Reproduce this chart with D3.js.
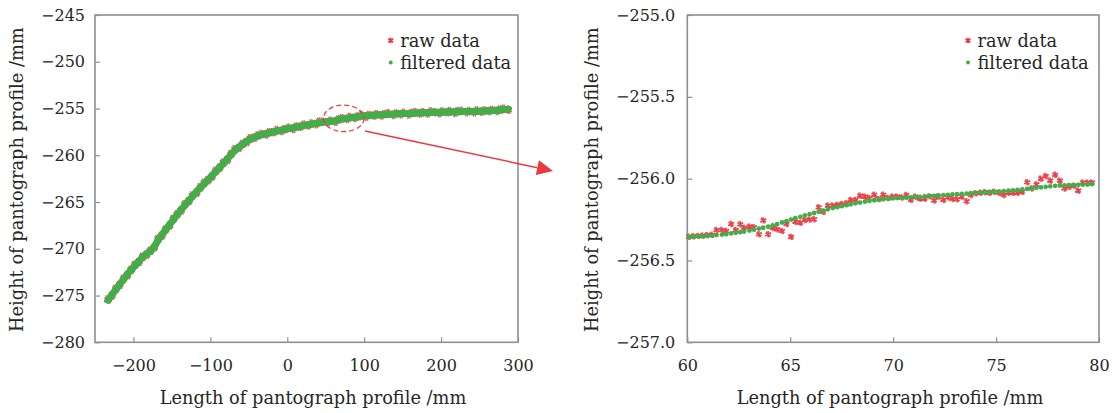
<!DOCTYPE html>
<html>
<head>
<meta charset="utf-8">
<script src="https://cdn.jsdelivr.net/npm/d3@7.9.0/dist/d3.min.js"></script>
<style>
  html, body { margin: 0; padding: 0; background: #fff; }
  svg { display: block; font-family: "DejaVu Serif", serif; }
</style>
</head>
<body>
<svg id="chart" width="1115" height="413"></svg>
<script>
// left panel: whole profile
const leftX = [-233, -228, -223, -218, -213, -208, -203, -198, -193, -188,
  -183, -178, -173, -168, -163, -158, -153, -148, -143, -138,
  -133, -128, -123, -118, -113, -108, -103, -98, -93, -88,
  -83, -78, -73, -68, -63, -58, -53, -48, -43, -38,
  -33, -28, -23, -18, -13, -8, -3, 2, 7, 12,
  17, 22, 27, 32, 37, 42, 47, 52, 57, 62,
  67, 72, 77, 82, 87, 92, 97, 102, 107, 112,
  117, 122, 127, 132, 137, 142, 147, 152, 157, 162,
  167, 172, 177, 182, 187, 192, 197, 202, 207, 212,
  217, 222, 227, 232, 237, 242, 247, 252, 257, 262,
  267, 272, 277, 282, 287];
const leftRaw = [-275.42, -275.02, -274.27, -273.87, -273.20, -272.85, -272.23, -271.70, -271.42, -270.85,
  -270.65, -270.19, -269.85, -268.94, -268.59, -267.92, -267.52, -266.80, -266.30, -265.91,
  -265.23, -264.90, -264.28, -264.02, -263.42, -262.94, -262.67, -262.28, -261.66, -261.33,
  -260.79, -260.52, -259.86, -259.35, -259.21, -258.79, -258.60, -258.19, -258.13, -257.88,
  -257.72, -257.78, -257.53, -257.53, -257.30, -257.40, -257.21, -257.06, -257.19, -256.93,
  -256.94, -256.72, -256.81, -256.60, -256.68, -256.40, -256.41, -256.47, -256.30, -256.42,
  -256.15, -256.03, -256.11, -255.90, -256.01, -255.85, -255.69, -255.87, -255.69, -255.75,
  -255.60, -255.74, -255.59, -255.50, -255.69, -255.53, -255.61, -255.46, -255.63, -255.48,
  -255.39, -255.53, -255.39, -255.53, -255.32, -255.39, -255.50, -255.32, -255.41, -255.27,
  -255.47, -255.29, -255.25, -255.39, -255.28, -255.40, -255.20, -255.34, -255.20, -255.27,
  -255.15, -255.26, -255.11, -255.02, -255.14];
const leftFiltered = [-275.48, -274.93, -274.38, -273.83, -273.28, -272.73, -272.26, -271.80, -271.35, -270.90,
  -270.54, -270.28, -269.82, -269.06, -268.51, -267.96, -267.42, -266.87, -266.32, -265.82,
  -265.33, -264.85, -264.36, -263.90, -263.48, -263.05, -262.63, -262.20, -261.75, -261.31,
  -260.86, -260.41, -259.91, -259.47, -259.15, -258.82, -258.51, -258.29, -258.06, -257.92,
  -257.80, -257.68, -257.59, -257.50, -257.41, -257.32, -257.23, -257.15, -257.07, -256.98,
  -256.90, -256.82, -256.74, -256.66, -256.59, -256.52, -256.44, -256.41, -256.38, -256.31,
  -256.19, -256.10, -256.06, -256.00, -255.93, -255.87, -255.80, -255.77, -255.75, -255.72,
  -255.69, -255.67, -255.64, -255.62, -255.60, -255.57, -255.55, -255.54, -255.52, -255.51,
  -255.49, -255.48, -255.46, -255.45, -255.43, -255.41, -255.40, -255.38, -255.37, -255.36,
  -255.35, -255.34, -255.33, -255.32, -255.31, -255.31, -255.30, -255.29, -255.27, -255.24,
  -255.21, -255.18, -255.15, -255.11, -255.08];

// right panel: zoom on 60..80 mm
const zoomX = [60.08, 60.30, 60.53, 60.75, 60.97, 61.20, 61.42, 61.68, 61.89, 62.13,
  62.35, 62.57, 62.76, 63.02, 63.24, 63.48, 63.69, 63.93, 64.15, 64.36,
  64.60, 64.82, 65.04, 65.25, 65.49, 65.71, 65.94, 66.16, 66.38, 66.60,
  66.83, 67.07, 67.29, 67.51, 67.74, 67.94, 68.17, 68.39, 68.63, 68.85,
  69.08, 69.30, 69.52, 69.75, 69.97, 70.19, 70.42, 70.64, 70.86, 71.08,
  71.30, 71.53, 71.76, 71.99, 72.19, 72.44, 72.66, 72.88, 73.10, 73.33,
  73.57, 73.77, 74.00, 74.24, 74.46, 74.68, 74.90, 75.15, 75.37, 75.60,
  75.82, 76.04, 76.27, 76.51, 76.73, 76.96, 77.18, 77.41, 77.63, 77.87,
  78.10, 78.32, 78.54, 78.77, 78.99, 79.21, 79.44, 79.66];
const zoomRaw = [-256.355, -256.352, -256.350, -256.348, -256.345, -256.343, -256.314, -256.314, -256.320, -256.277,
  -256.314, -256.279, -256.300, -256.293, -256.297, -256.340, -256.255, -256.340, -256.300, -256.310,
  -256.320, -256.277, -256.356, -256.263, -256.269, -256.253, -256.250, -256.248, -256.175, -256.203,
  -256.165, -256.165, -256.160, -256.155, -256.150, -256.130, -256.130, -256.104, -256.110, -256.120,
  -256.098, -256.125, -256.098, -256.118, -256.110, -256.110, -256.115, -256.100, -256.130, -256.110,
  -256.122, -256.122, -256.108, -256.134, -256.110, -256.130, -256.114, -256.124, -256.126, -256.110,
  -256.138, -256.100, -256.090, -256.086, -256.083, -256.086, -256.080, -256.086, -256.100, -256.086,
  -256.086, -256.086, -256.080, -256.022, -256.060, -256.035, -256.000, -255.984, -256.012, -255.976,
  -256.012, -256.060, -256.050, -256.043, -256.073, -256.024, -256.024, -256.024];
const zoomFiltered = [-256.356, -256.355, -256.353, -256.352, -256.350, -256.348, -256.345, -256.342, -256.339, -256.335,
  -256.331, -256.327, -256.323, -256.317, -256.312, -256.305, -256.300, -256.294, -256.286, -256.278,
  -256.268, -256.259, -256.250, -256.242, -256.233, -256.225, -256.217, -256.210, -256.202, -256.195,
  -256.187, -256.180, -256.174, -256.168, -256.162, -256.157, -256.151, -256.146, -256.141, -256.136,
  -256.132, -256.129, -256.126, -256.123, -256.121, -256.119, -256.117, -256.116, -256.114, -256.112,
  -256.111, -256.109, -256.107, -256.105, -256.103, -256.101, -256.099, -256.097, -256.095, -256.093,
  -256.091, -256.089, -256.087, -256.085, -256.084, -256.082, -256.081, -256.079, -256.077, -256.074,
  -256.072, -256.069, -256.066, -256.062, -256.059, -256.056, -256.053, -256.050, -256.047, -256.044,
  -256.042, -256.041, -256.040, -256.039, -256.038, -256.037, -256.036, -256.034];

const leftXTicks = [-200, -100, 0, 100, 200, 300];
const leftYTicks = [-245, -250, -255, -260, -265, -270, -275, -280];
const zoomXTicks = [60, 65, 70, 75, 80];
const zoomYTicks = [-255, -255.5, -256, -256.5, -257];
const seriesNames = ['raw data', 'filtered data'];
const xTitle = 'Length of pantograph profile /mm';
const yTitle = 'Height of pantograph profile /mm';

const RED = '#ea3a3f';
const GREEN = '#43ad4a';
const FRAME = '#8b9095';
const TEXT = '#262626';

const svg = d3.select('#chart');

function drawPanel(opt) {
  const x = d3.scaleLinear().domain(opt.xDomain).range([opt.left, opt.right]);
  const y = d3.scaleLinear().domain(opt.yDomain).range([opt.bottom, opt.top]);
  const g = svg.append('g');

  // axes with inward ticks
  const xAxis = g.append('g')
    .attr('transform', `translate(0,${opt.bottom})`)
    .call(d3.axisBottom(x).tickValues(opt.xTicks).tickSize(-5).tickPadding(17).tickFormat(opt.xFormat));
  const yAxis = g.append('g')
    .attr('transform', `translate(${opt.left},0)`)
    .call(d3.axisLeft(y).tickValues(opt.yTicks).tickSize(-5).tickPadding(opt.yPad).tickFormat(opt.yFormat));
  [xAxis, yAxis].forEach(a => {
    a.select('.domain').remove();
    a.selectAll('line').attr('stroke', FRAME).attr('stroke-width', 1.2);
    a.selectAll('text').attr('fill', TEXT).style('font-size', '16px').style('font-family', '"DejaVu Serif", serif');
  });

  g.append('rect')
    .attr('x', opt.left).attr('y', opt.top)
    .attr('width', opt.right - opt.left).attr('height', opt.bottom - opt.top)
    .attr('fill', 'none').attr('stroke', FRAME).attr('stroke-width', 1.6);

  const raw = opt.xs.map((d, i) => [d, opt.raw[i]]);
  const filt = opt.xs.map((d, i) => [d, opt.filt[i]]);
  const star = d3.symbol().type(d3.symbolAsterisk).size(opt.starSize);
  const star2 = d3.symbol().type(d3.symbolTimes).size(opt.starSize * 0.6);

  const marks = g.append('g');
  raw.forEach(d => {
    const t = `translate(${x(d[0])},${y(d[1])})`;
    marks.append('path').attr('d', star()).attr('transform', t)
      .attr('fill', 'none').attr('stroke', RED).attr('stroke-width', 1.6).attr('stroke-opacity', 0.85);
    marks.append('path').attr('d', star2()).attr('transform', t + ' rotate(15)')
      .attr('fill', 'none').attr('stroke', RED).attr('stroke-width', 1.4).attr('stroke-opacity', 0.85);
  });

  if (opt.band) {
    g.append('path')
      .attr('d', d3.line().x(d => x(d[0])).y(d => y(d[1]))(filt))
      .attr('fill', 'none').attr('stroke', GREEN).attr('stroke-width', opt.band)
      .attr('stroke-linecap', 'round').attr('stroke-linejoin', 'round');
  }
  g.append('g').selectAll('circle').data(filt).join('circle')
    .attr('cx', d => x(d[0])).attr('cy', d => y(d[1])).attr('r', opt.dotR)
    .attr('fill', GREEN);

  // legend
  const lg = g.append('g').attr('transform', `translate(${opt.legendX},40.5)`);
  lg.append('path').attr('d', d3.symbol().type(d3.symbolAsterisk).size(22)())
    .attr('fill', 'none').attr('stroke', RED).attr('stroke-width', 1.5);
  lg.append('path').attr('d', d3.symbol().type(d3.symbolTimes).size(13)())
    .attr('fill', 'none').attr('stroke', RED).attr('stroke-width', 1.3);
  lg.append('circle').attr('cx', 0).attr('cy', 22).attr('r', 2).attr('fill', GREEN);
  seriesNames.forEach((name, i) => {
    lg.append('text').attr('x', 9.5).attr('y', 6 + i * 22).attr('fill', TEXT)
      .style('font-size', '17.8px').text(name);
  });

  // axis titles
  g.append('text').attr('x', opt.xTitleX).attr('y', 404).attr('text-anchor', 'middle')
    .attr('fill', TEXT).style('font-size', '17.8px').text(xTitle);
  g.append('text').attr('transform', `translate(${opt.yTitleX},${(opt.top + opt.bottom) / 2 + 1}) rotate(-90)`)
    .attr('text-anchor', 'middle').attr('fill', TEXT).style('font-size', '17.8px').text(yTitle);

  return { x, y, g };
}

const left = drawPanel({
  xDomain: [-250, 300], yDomain: [-280, -245],
  left: 95, right: 518, top: 15, bottom: 342.3,
  xTicks: leftXTicks, yTicks: leftYTicks,
  xFormat: d3.format('d'), yFormat: d3.format('d'), yPad: 10,
  xs: leftX, raw: leftRaw, filt: leftFiltered,
  starSize: 50, dotR: 3.5, band: 7,
  legendX: 390.7, xTitleX: 313, yTitleX: 23
});

drawPanel({
  xDomain: [60, 80], yDomain: [-257, -255],
  left: 687.3, right: 1099, top: 15, bottom: 342.3,
  xTicks: zoomXTicks, yTicks: zoomYTicks,
  xFormat: d3.format('d'), yFormat: d3.format('.1f'), yPad: 12,
  xs: zoomX, raw: zoomRaw, filt: zoomFiltered,
  starSize: 28, dotR: 2.4, band: 0,
  legendX: 968, xTitleX: 890, yTitleX: 598
});

// dashed ellipse marking the zoomed region, plus arrow to the right panel
const ex = left.x(73.4), ey = left.y(-256.05);
const erx = left.x(73.4 + 26.4) - ex, ery = ey - left.y(-256.05 + 1.42);
svg.append('ellipse').attr('cx', ex).attr('cy', ey).attr('rx', erx).attr('ry', ery)
  .attr('fill', 'none').attr('stroke', RED).attr('stroke-width', 1.3).attr('stroke-dasharray', '5,3');

const a0 = [left.x(101), left.y(-257.4)];
const tip = [553, 171];
const ang = Math.atan2(tip[1] - a0[1], tip[0] - a0[0]);
const hl = 16, hw = 7.5;
const base = [tip[0] - hl * Math.cos(ang), tip[1] - hl * Math.sin(ang)];
svg.append('line').attr('x1', a0[0]).attr('y1', a0[1]).attr('x2', base[0]).attr('y2', base[1])
  .attr('stroke', RED).attr('stroke-width', 1.5);
svg.append('path')
  .attr('d', `M${tip[0]},${tip[1]}L${base[0] - hw * Math.sin(ang)},${base[1] + hw * Math.cos(ang)}L${base[0] + hw * Math.sin(ang)},${base[1] - hw * Math.cos(ang)}Z`)
  .attr('fill', RED);
</script>
</body>
</html>
